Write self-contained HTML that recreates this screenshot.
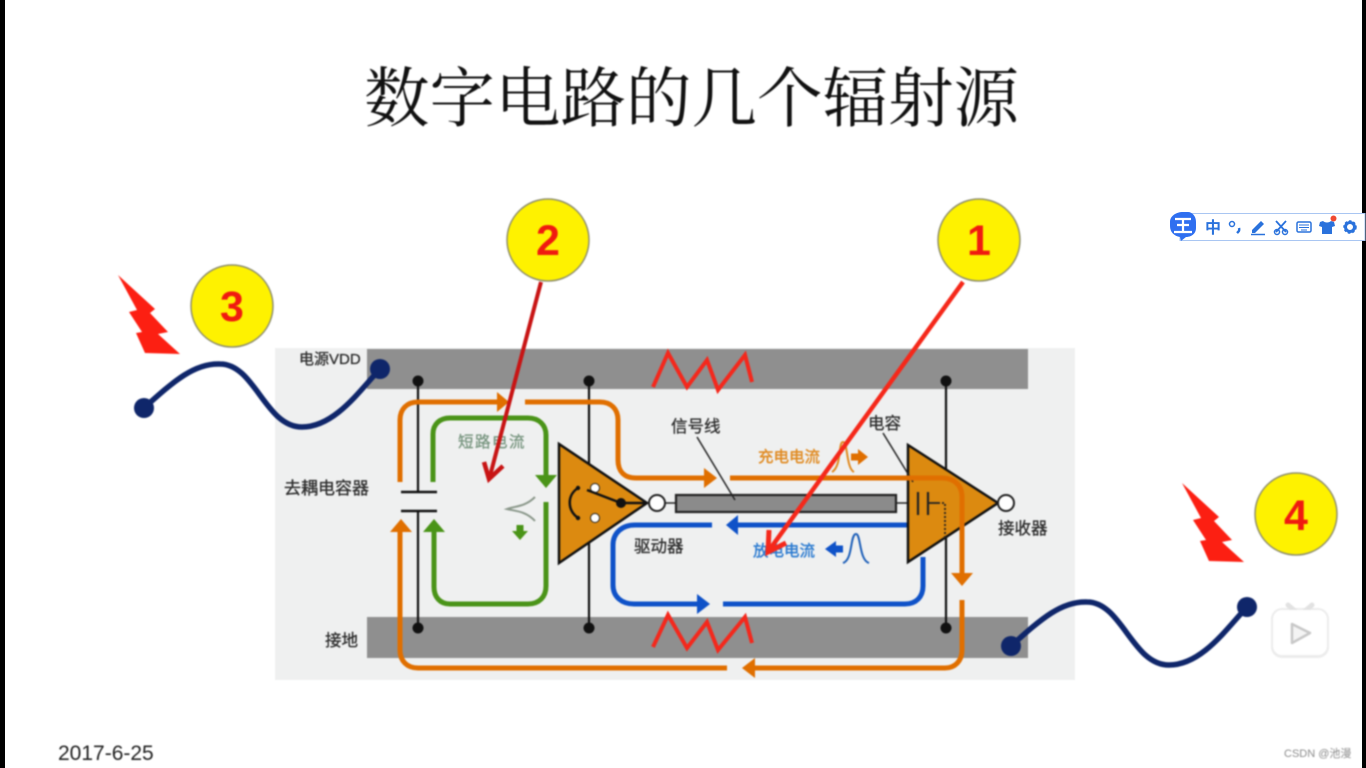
<!DOCTYPE html>
<html lang="zh">
<head>
<meta charset="utf-8">
<title>数字电路的几个辐射源</title>
<style>
html,body{margin:0;padding:0;width:1366px;height:768px;overflow:hidden;background:#fff}
#stage{position:relative;width:1366px;height:768px;overflow:hidden;background:#fff}
svg{position:absolute;left:0;top:0}
#main{filter:blur(.7px)}
text{font-family:"Liberation Sans","Noto Sans CJK SC",sans-serif}
.l{font-size:15px;fill:#2c2c2c;stroke:#2c2c2c;stroke-width:.3px}
.n{font-size:43px;font-weight:bold;fill:#f01a10;text-anchor:middle;font-family:"Liberation Sans",sans-serif}
</style>
</head>
<body>
<div id="stage">
<svg id="main" width="1366" height="768" viewBox="0 0 1366 768" fill="none">
  <!-- panel -->
  <rect x="275" y="348" width="800" height="332" fill="#eff0f0"/>
  <rect x="367" y="349" width="661" height="40" fill="#8f8f8f"/>
  <rect x="367" y="617" width="661" height="41" fill="#8f8f8f"/>

  <!-- title -->
  <text x="364" y="121" style="font-family:'Liberation Serif','Noto Serif CJK SC',serif;font-size:65.500px;fill:#111">数字电路的几个辐射源</text>

  <!-- zigzags -->
  <polyline points="653,387 668,353 687,387 707,360 718,390 745,355 752,382" stroke="#f4281c" stroke-width="4"/>
  <polyline points="653,647 668,615 687,648 707,622 718,650 745,617 752,643" stroke="#f4281c" stroke-width="4"/>

  <!-- vertical power lines -->
  <g stroke="#111" stroke-width="2.200">
    <path d="M418,381V492M418,511V628M589,381V628M946,381V628"/>
    <path d="M401,492H437M401,511H437" stroke-width="2.500"/>
  </g>
  <g fill="#111">
    <circle cx="418" cy="381" r="5.500"/><circle cx="418" cy="628" r="5.500"/>
    <circle cx="589" cy="381" r="5.500"/><circle cx="589" cy="628" r="5.500"/>
    <circle cx="946" cy="381" r="5.500"/><circle cx="946" cy="628" r="5.500"/>
  </g>

  <!-- blue loop -->
  <g stroke="#0f52c8" stroke-width="5">
    <path d="M907,525H732"/>
    <path d="M712,525H635C622,525 613,533 613,545V585C613,597 622,604 634,604H702"/>
    <path d="M723,604H905C916,604 923,597 923,586V557"/>
  </g>
  <polygon points="726,525 738,515 738,535" fill="#0f52c8"/>
  <polygon points="710,604 697,594 697,614" fill="#0f52c8"/>

  <!-- green loop -->
  <g stroke="#4a9418" stroke-width="5">
    <path d="M433,482V434C433,424 440,418 450,418H528C539,418 546,425 546,435V478"/>
    <path d="M546,502V586C546,597 539,604 528,604H450C440,604 434,597 434,587V528"/>
  </g>
  <polygon points="546,488 535,475 557,475" fill="#4a9418"/>
  <polygon points="434,519 423,532 445,532" fill="#4a9418"/>
  <path d="M535,497C525,507 515,506 507,509C515,511 526,511 535,521" stroke="#8b988b" stroke-width="2"/>
  <path d="M520,525V533" stroke="#4a9418" stroke-width="7"/>
  <polygon points="520,540 512,531 528,531" fill="#4a9418"/>

  <!-- driver -->
  <polygon points="559,444 559,563 647,503" fill="#dc8a10" stroke="#111" stroke-width="2.500"/>
  <circle cx="595" cy="488" r="4.500" fill="#fff" stroke="#222"/>
  <circle cx="595" cy="518" r="4.500" fill="#fff" stroke="#222"/>
  <path d="M587,490L621,503H647" stroke="#111" stroke-width="2.500"/>
  <circle cx="621" cy="503" r="5" fill="#111"/>
  <path d="M578,488C567,495 567,510 578,518" stroke="#111" stroke-width="2.500"/>
  <circle cx="578" cy="488" r="2.200" fill="#111"/><circle cx="578" cy="518" r="2.200" fill="#111"/>
  <circle cx="657" cy="503" r="8" fill="#fff" stroke="#222" stroke-width="2"/>

  <!-- signal line -->
  <path d="M665,503H676M896,503H918" stroke="#222" stroke-width="1.500"/>
  <rect x="676" y="495" width="220" height="17" fill="#8b8b8b" stroke="#222" stroke-width="2.200"/>
  <path d="M697,437L735,500" stroke="#222" stroke-width="1.500"/>

  <!-- receiver -->
  <polygon points="908,445 908,562 998,503" fill="#dc8a10" stroke="#111" stroke-width="2.500"/>
  <path d="M918,492V515M928,492V515" stroke="#222" stroke-width="2.200"/>
  <path d="M928,503H938" stroke="#222" stroke-width="1.800"/>
  <path d="M938,503H945V540" stroke="#222" stroke-width="1.800" stroke-dasharray="2 2"/>
  <circle cx="1006" cy="503" r="8" fill="#fff" stroke="#222" stroke-width="2"/>
  <path d="M883,433L913,482" stroke="#222" stroke-width="1.500"/>

  <!-- orange loop -->
  <g stroke="#e06f00" stroke-width="5">
    <path d="M400,482V420C400,409 407,402 418,402H500"/>
    <path d="M525,402H600C611,402 618,409 618,420V460C618,471 624,478 636,478H708"/>
    <path d="M730,478H942C954,478 962,485 962,497V577"/>
    <path d="M962,600V650C962,661 955,668 945,668H750"/>
    <path d="M727,668H418C407,668 400,661 400,650V528"/>
  </g>
  <polygon points="509,402 497,392 497,412" fill="#e06f00"/>
  <polygon points="717,478 704,468 704,488" fill="#e06f00"/>
  <polygon points="962,586 951,573 973,573" fill="#e06f00"/>
  <polygon points="742,668 755,658 755,678" fill="#e06f00"/>
  <polygon points="401,519 390,532 412,532" fill="#e06f00"/>

  <!-- pulses -->
  <path d="M832,472C842,466 838,442 843,442C848,442 846,468 854,472" stroke="#e08a20" stroke-width="2"/>
  <path d="M851,457H860" stroke="#e06f00" stroke-width="7"/>
  <polygon points="868,457 858,449 858,465" fill="#e06f00"/>
  <path d="M843,563C853,560 850,534 856,534C861,534 859,560 869,563" stroke="#1d5fb8" stroke-width="2"/>
  <path d="M834,549H843" stroke="#0f52c8" stroke-width="7"/>
  <polygon points="825,549 836,541 836,557" fill="#0f52c8"/>

  <!-- labels -->
  <text x="458" y="447" style="font-size:15.500px;fill:#76947e;stroke:#76947e;stroke-width:.3px;letter-spacing:1.500px">短路电流</text>
  <text x="671" y="432" class="l" style="font-size:16.500px">信号线</text>
  <text x="868" y="429" class="l" style="font-size:16.500px">电容</text>
  <text x="758" y="462" style="font-size:15.500px;fill:#e08a20;stroke:#e08a20;stroke-width:.4px">充电电流</text>
  <text x="753" y="556" style="font-size:15.500px;fill:#2a7ad0;stroke:#2a7ad0;stroke-width:.4px">放电电流</text>
  <text x="634" y="552" class="l" style="font-size:16.500px">驱动器</text>
  <text x="998" y="534" class="l" style="font-size:16.500px">接收器</text>
  <text x="284" y="494" class="l" style="font-size:17px">去耦电容器</text>
  <text x="299" y="364" class="l" style="font-size:15px">电源VDD</text>
  <text x="325" y="646" class="l" style="font-size:16.500px">接地</text>

  <!-- bolts -->
  <polygon points="118,275 155,309 150,313 168,332 158,334 180,354 145,353 136,333 142,332 129,312 137,310" fill="#fc1f12"/>
  <polygon points="1182,483 1219,517 1214,521 1232,540 1222,542 1244,562 1209,561 1200,541 1206,540 1193,520 1201,518" fill="#fc1f12"/>

  <!-- wires -->
  <g stroke="#0f266a" stroke-width="5.500">
    <path d="M144,408C175,380 195,363 220,364C255,364 265,427 302,427C335,427 360,390 380,369"/>
    <path d="M1011,646C1042,618 1062,601 1087,602C1122,602 1132,665 1169,665C1202,665 1227,628 1247,607"/>
  </g>
  <g fill="#0f266a">
    <circle cx="144" cy="408" r="10"/><circle cx="380" cy="369" r="10"/>
    <circle cx="1011" cy="646" r="10"/><circle cx="1247" cy="607" r="10"/>
  </g>

  <!-- callout arrows -->
  <g stroke="#c81414" stroke-width="4">
    <path d="M541,282L490,476"/>
    <path d="M484,462L489,479L503,466" stroke-width="4.500"/>
  </g>
  <g stroke="#f5281a" stroke-width="4.500">
    <path d="M963,282L770,549"/>
    <path d="M769,530L768,552L786,543" stroke-width="5"/>
  </g>

  <!-- numbered circles -->
  <g fill="#fef200" stroke="#90906e" stroke-width="1.500">
    <circle cx="548" cy="240" r="41"/>
    <circle cx="979" cy="240" r="41"/>
    <circle cx="232" cy="306" r="41"/>
    <circle cx="1296" cy="514" r="41"/>
  </g>
  <text x="548" y="255" class="n">2</text>
  <text x="979" y="255" class="n">1</text>
  <text x="232" y="321" class="n">3</text>
  <text x="1296" y="530" class="n">4</text>

  <!-- footer -->
  <text x="58" y="760" style="font-size:21px;fill:#222">2017-6-25</text>
  <text x="1284" y="757" style="font-size:11px;fill:#8c8c8c">CSDN @池漫</text>

  <!-- video icon -->
  <rect x="1271" y="608" width="58" height="50" rx="11" fill="#ececec"/>
  <path d="M1288,605L1296,612M1312,605L1304,612" stroke="#e2e2e2" stroke-width="5" stroke-linecap="round"/>
  <rect x="1273" y="610" width="54" height="45" rx="9" fill="#fff"/>
  <polygon points="1292,624 1310,633 1292,643" fill="#f4f4f4" stroke="#c8c8c8" stroke-width="2.500" stroke-linejoin="round"/>
</svg>

<!-- letterbox edges -->
<div style="position:absolute;left:0;top:0;width:5px;height:768px;background:#000"></div>
<div style="position:absolute;right:0;top:0;width:4px;height:768px;background:#000"></div>

<!-- input method toolbar -->
<svg width="1366" height="768" viewBox="0 0 1366 768" fill="none">
  <rect x="1180" y="213.500" width="185" height="27" fill="#fff" stroke="#a9c6f2"/>
  <path d="M1183,212H1188C1192,212 1196,216 1196,222V228C1196,234 1191,237 1186,237L1181,241L1180,237C1174,236 1170,232 1170,226V222C1170,216 1176,212 1183,212Z" fill="#2f6ff0"/>
  <path d="M1175,219H1191M1177,225H1189M1174,232H1192M1183,219V232" stroke="#fff" stroke-width="2.200"/>
  <text x="1205" y="233" style="font-size:16px;fill:#2a72dc;font-weight:bold">中</text>
  <circle cx="1232" cy="224" r="2.500" stroke="#2a72dc" stroke-width="1.500"/>
  <path d="M1239,228C1240,231 1238,232 1237,233" stroke="#2a72dc" stroke-width="2.500"/>
  <path d="M1252,230L1261,221L1264,224L1255,233H1252Z" fill="#2a72dc"/>
  <path d="M1251,234.500H1265" stroke="#2a72dc" stroke-width="1.500"/>
  <path d="M1276,221L1286,232M1286,221L1276,232" stroke="#2a72dc" stroke-width="1.800"/>
  <circle cx="1277" cy="232" r="2.500" stroke="#2a72dc" stroke-width="1.500"/>
  <circle cx="1285" cy="232" r="2.500" stroke="#2a72dc" stroke-width="1.500"/>
  <rect x="1297" y="222" width="14" height="10" rx="1.500" stroke="#2a72dc" stroke-width="1.500"/>
  <path d="M1299,225H1309M1299,227.500H1309M1301,230H1307" stroke="#2a72dc"/>
  <path d="M1323,221L1320,222L1319,226L1322,227V234H1332V227L1335,226L1334,222L1331,221C1329,223 1325,223 1323,221Z" fill="#2a72dc"/>
  <circle cx="1333.500" cy="218.500" r="3" fill="#f04a30"/>
  <circle cx="1350" cy="227" r="4.500" stroke="#2a72dc" stroke-width="3"/>
  <circle cx="1350" cy="227" r="6" stroke="#2a72dc" stroke-width="1.500" stroke-dasharray="2.500 2"/>
</svg>
</div>
</body>
</html>
